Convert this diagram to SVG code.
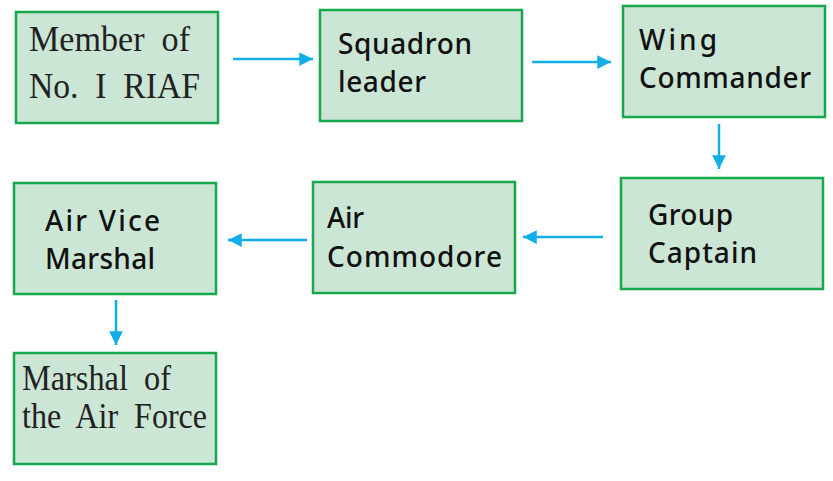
<svg xmlns="http://www.w3.org/2000/svg" width="833" height="481" viewBox="0 0 833 481">
<style>
.box{fill:#cce6d5;stroke:#16a84e;stroke-width:2.5}
.serif{font-family:"Liberation Serif","Times New Roman",serif;font-size:36px;fill:#222;white-space:pre}
.sans{font-family:"Noto Sans","DejaVu Sans",sans-serif;font-size:28px;font-weight:500;fill:#111}
.conn{stroke:#12aee8;stroke-width:2.5;fill:none}
</style>
<defs>
<marker id="ah" viewBox="0 0 10 10" refX="10" refY="5" markerWidth="7" markerHeight="5.5" markerUnits="strokeWidth" orient="auto">
<path d="M0,0 L10,5 L0,10 Z" fill="#12aee8"/>
</marker>
</defs>
<rect width="833" height="481" fill="#fff"/>
<g id="n1">
<rect class="box" x="16" y="12" width="202" height="111"/>
<text class="serif" x="29" y="51" textLength="161" lengthAdjust="spacingAndGlyphs" xml:space="preserve">Member  of</text>
<text class="serif" x="29" y="98" textLength="171" lengthAdjust="spacingAndGlyphs" xml:space="preserve">No.  I  RIAF</text>
</g>
<g id="n2">
<rect class="box" x="320" y="10" width="202" height="111"/>
<text class="sans" x="338" y="54" textLength="134" lengthAdjust="spacing">Squadron</text>
<text class="sans" x="338" y="92" textLength="88" lengthAdjust="spacing">leader</text>
</g>
<g id="n3">
<rect class="box" x="623" y="6" width="202" height="111"/>
<text class="sans" x="639" y="50" textLength="78" lengthAdjust="spacing">Wing</text>
<text class="sans" x="639" y="88" textLength="172" lengthAdjust="spacing">Commander</text>
</g>
<g id="n4">
<rect class="box" x="621" y="178" width="202" height="111"/>
<text class="sans" x="648" y="225" textLength="85" lengthAdjust="spacing">Group</text>
<text class="sans" x="648" y="263" textLength="109" lengthAdjust="spacing">Captain</text>
</g>
<g id="n5">
<rect class="box" x="313" y="182" width="202" height="111"/>
<text class="sans" x="327" y="228" textLength="37" lengthAdjust="spacing">Air</text>
<text class="sans" x="327" y="267" textLength="175" lengthAdjust="spacing">Commodore</text>
</g>
<g id="n6">
<rect class="box" x="14" y="183" width="202" height="111"/>
<text class="sans" x="45" y="231" textLength="115" lengthAdjust="spacing">Air Vice</text>
<text class="sans" x="45" y="269" textLength="110" lengthAdjust="spacing">Marshal</text>
</g>
<g id="n7">
<rect class="box" x="14" y="353" width="202" height="111"/>
<text class="serif" x="22" y="390" textLength="149" lengthAdjust="spacingAndGlyphs" xml:space="preserve">Marshal  of</text>
<text class="serif" x="22" y="428" textLength="185" lengthAdjust="spacingAndGlyphs" xml:space="preserve">the  Air  Force</text>
</g>
<g id="connectors">
<line class="conn" x1="233" y1="59" x2="313" y2="59" marker-end="url(#ah)"/>
<line class="conn" x1="532" y1="62" x2="611" y2="62" marker-end="url(#ah)"/>
<line class="conn" x1="719" y1="124" x2="719" y2="169" marker-end="url(#ah)"/>
<line class="conn" x1="603" y1="237" x2="523" y2="237" marker-end="url(#ah)"/>
<line class="conn" x1="307" y1="240" x2="228" y2="240" marker-end="url(#ah)"/>
<line class="conn" x1="116" y1="300" x2="116" y2="345" marker-end="url(#ah)"/>
</g>
</svg>
